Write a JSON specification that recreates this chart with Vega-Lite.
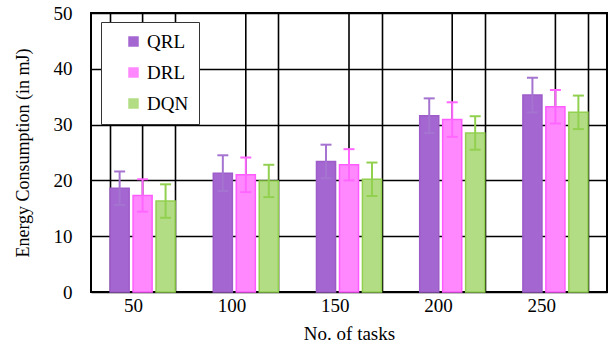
{
  "$schema": "https://vega.github.io/schema/vega-lite/v6.json",
  "width": 516,
  "height": 279,
  "autosize": {"type": "none"},
  "padding": {"left": 91, "top": 13, "right": 6, "bottom": 65},
  "background": "white",
  "config": {
    "font": "Liberation Serif",
    "view": {"stroke": "black", "strokeWidth": 2},
    "axis": {"labelFont": "Liberation Serif", "titleFont": "Liberation Serif", "labelColor": "black", "titleColor": "black", "titleFontWeight": "normal", "labelFontSize": 19, "titleFontSize": 19, "gridColor": "black", "gridWidth": 1.6, "gridOpacity": 1, "ticks": false, "tickSize": 0, "domain": false},
    "legend": {"labelFont": "Liberation Serif", "labelFontSize": 19, "labelColor": "black"}
  },
  "datasets": {
    "bars": [
      {"tasks": 50, "method": "QRL", "value": 18.6, "lo": 15.6, "hi": 21.6},
      {"tasks": 50, "method": "DRL", "value": 17.3, "lo": 14.4, "hi": 20.2},
      {"tasks": 50, "method": "DQN", "value": 16.3, "lo": 13.3, "hi": 19.3},
      {"tasks": 100, "method": "QRL", "value": 21.3, "lo": 18.1, "hi": 24.5},
      {"tasks": 100, "method": "DRL", "value": 21.0, "lo": 17.9, "hi": 24.1},
      {"tasks": 100, "method": "DQN", "value": 19.9, "lo": 17.0, "hi": 22.8},
      {"tasks": 150, "method": "QRL", "value": 23.4, "lo": 20.4, "hi": 26.4},
      {"tasks": 150, "method": "DRL", "value": 22.8, "lo": 20.0, "hi": 25.6},
      {"tasks": 150, "method": "DQN", "value": 20.2, "lo": 17.2, "hi": 23.2},
      {"tasks": 200, "method": "QRL", "value": 31.6, "lo": 28.5, "hi": 34.7},
      {"tasks": 200, "method": "DRL", "value": 30.9, "lo": 27.8, "hi": 34.0},
      {"tasks": 200, "method": "DQN", "value": 28.5, "lo": 25.5, "hi": 31.5},
      {"tasks": 250, "method": "QRL", "value": 35.3, "lo": 32.2, "hi": 38.4},
      {"tasks": 250, "method": "DRL", "value": 33.2, "lo": 30.2, "hi": 36.2},
      {"tasks": 250, "method": "DQN", "value": 32.2, "lo": 29.2, "hi": 35.2}
    ],
    "cats": [
      {"tasks": 50}, {"tasks": 100}, {"tasks": 150}, {"tasks": 200}, {"tasks": 250}
    ]
  },
  "layer": [
    {
      "data": {"name": "cats"},
      "mark": {"type": "rule", "color": "black", "strokeWidth": 1.6},
      "encoding": {
        "x": {"field": "tasks", "type": "ordinal"}
      }
    },
    {
      "data": {"name": "bars"},
      "mark": {"type": "bar", "strokeWidth": 1.5},
      "encoding": {
        "x": {"field": "tasks", "type": "ordinal", "scale": {"paddingInner": 0.37, "paddingOuter": 0.185},
          "axis": {"title": "No. of tasks", "labelAngle": 0, "grid": true, "tickBand": "extent", "labelPadding": 13, "titlePadding": 9}},
        "xOffset": {"field": "method", "type": "nominal", "sort": ["QRL", "DRL", "DQN"], "scale": {"paddingInner": 0.17, "paddingOuter": 0}},
        "y": {"field": "value", "type": "quantitative", "scale": {"domain": [0, 50], "nice": false},
          "axis": {"title": "Energy Consumption (in mJ)", "titleFontSize": 18, "values": [0, 10, 20, 30, 40, 50], "grid": true, "labelPadding": 19, "titlePadding": 21}},
        "fill": {"field": "method", "type": "nominal", "sort": ["QRL", "DRL", "DQN"],
          "scale": {"domain": ["QRL", "DRL", "DQN"], "range": ["#A466D0", "#FF88FF", "#B3DD84"]},
          "legend": {"title": null, "orient": "none", "legendX": 10, "legendY": 9, "direction": "vertical",
            "fillColor": "white", "strokeColor": "#333333", "padding": 10,
            "symbolType": "square", "symbolSize": 110, "symbolOffset": 13, "symbolStrokeWidth": 0,
            "labelFont": "Liberation Serif", "labelFontSize": 19, "labelColor": "black", "labelOffset": 4, "rowPadding": 11}},
        "stroke": {"field": "method", "type": "nominal",
          "scale": {"domain": ["QRL", "DRL", "DQN"], "range": ["#9E5CC9", "#FF5CFF", "#92D050"]}, "legend": null}
      }
    },
    {
      "data": {"name": "bars"},
      "mark": {"type": "rule", "strokeWidth": 2},
      "encoding": {
        "x": {"field": "tasks", "type": "ordinal"},
        "xOffset": {"field": "method", "type": "nominal", "sort": ["QRL", "DRL", "DQN"]},
        "y": {"field": "lo", "type": "quantitative"},
        "y2": {"field": "hi"},
        "color": {"field": "method", "type": "nominal",
          "scale": {"domain": ["QRL", "DRL", "DQN"], "range": ["#A573D0", "#FF66FF", "#92D050"]}, "legend": null}
      }
    },
    {
      "data": {"name": "bars"},
      "mark": {"type": "tick", "thickness": 2, "size": 11, "opacity": 1},
      "encoding": {
        "x": {"field": "tasks", "type": "ordinal"},
        "xOffset": {"field": "method", "type": "nominal", "sort": ["QRL", "DRL", "DQN"]},
        "y": {"field": "hi", "type": "quantitative"},
        "color": {"field": "method", "type": "nominal", "legend": null}
      }
    },
    {
      "data": {"name": "bars"},
      "mark": {"type": "tick", "thickness": 2, "size": 11, "opacity": 1},
      "encoding": {
        "x": {"field": "tasks", "type": "ordinal"},
        "xOffset": {"field": "method", "type": "nominal", "sort": ["QRL", "DRL", "DQN"]},
        "y": {"field": "lo", "type": "quantitative"},
        "color": {"field": "method", "type": "nominal", "legend": null}
      }
    }
  ]
}
